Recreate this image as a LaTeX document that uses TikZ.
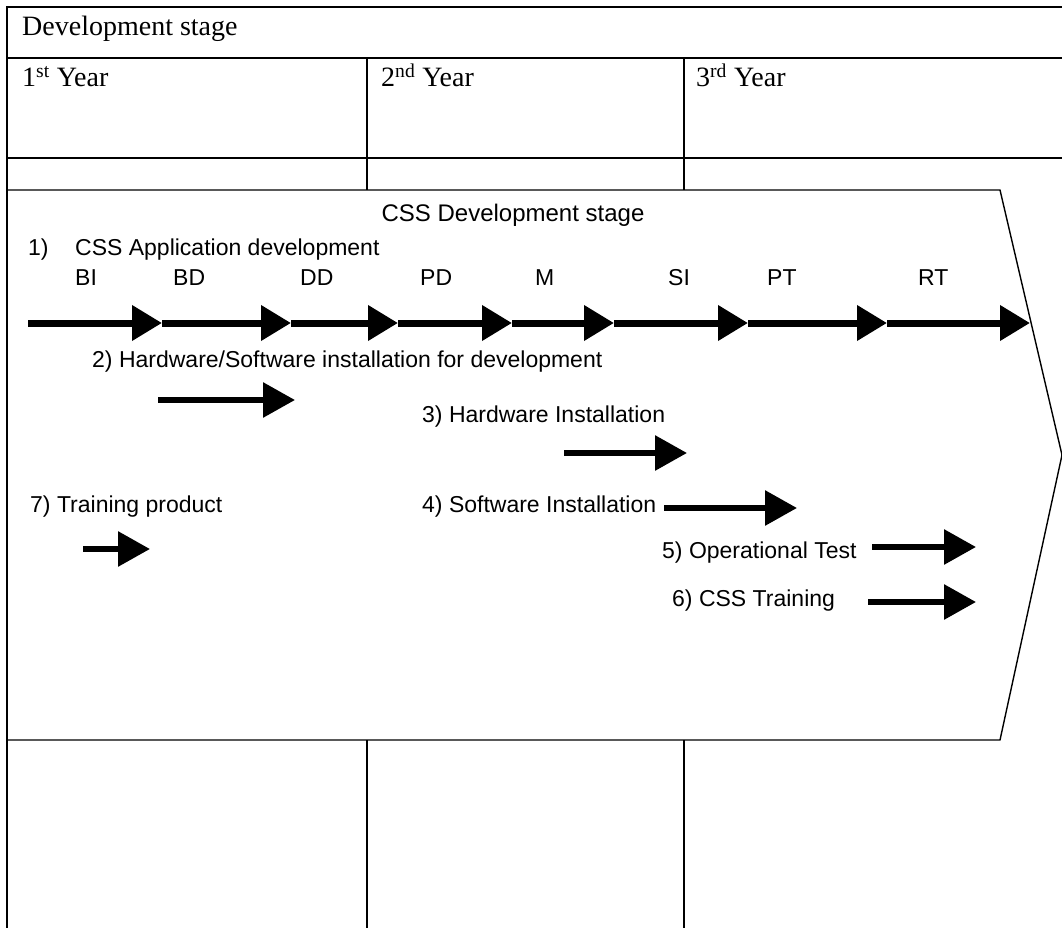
\documentclass[tikz,border=0pt]{standalone}
\usepackage{fontspec}
\setmainfont{Liberation Serif}
\setsansfont{Liberation Sans}
\usetikzlibrary{arrows.meta}
\tikzset{
  grid/.style={draw=black,line width=1.6pt},
  chevron/.style={draw=black,line width=1.4pt},
  phase/.style={-{Triangle[length=30pt,width=34pt]},line width=7pt},
  task/.style={-{Triangle[length=32pt,width=34pt]},line width=6pt},
  yearlbl/.style={anchor=base west,inner sep=0pt,font=\fontsize{28}{32}\selectfont},
  lbl/.style={anchor=base west,inner sep=0pt,font=\sffamily\fontsize{23}{27}\selectfont},
  milestone/.style={anchor=base west,inner sep=0pt,font=\sffamily\fontsize{23}{27}\selectfont}}

\begin{document}
\begin{tikzpicture}[x=1pt,y=-1pt]
\useasboundingbox (0,0) rectangle (1062,928);
% table frame
\draw[grid] (1062,7) -- (7,7) -- (7,928);
\draw[grid] (7,58) -- (1062,58);
\draw[grid] (7,158) -- (1062,158);
\draw[grid] (367,58) -- (367,190) (684,58) -- (684,190);
\draw[grid] (367,740) -- (367,928) (684,740) -- (684,928);
% stage chevron
\draw[chevron] (7,190) -- (1000,190) -- (1062,455) -- (1000,740) -- (7,740);

\node[yearlbl] (stage) at (22,36) {Development stage};
\node[yearlbl] (year1) at (22,87) {1\textsuperscript{st} Year};
\node[yearlbl] (year2) at (381,87) {2\textsuperscript{nd} Year};
\node[yearlbl] (year3) at (696,87) {3\textsuperscript{rd} Year};

\node[lbl,anchor=base,font=\sffamily\fontsize{24}{28}\selectfont] (css) at (513,222) {CSS Development stage};
\node[lbl] (t1num) at (28,255) {1)};
\node[lbl] (t1) at (75,255) {CSS Application development};

% milestones of 1)
\foreach \n/\x/\t in {bi/75/BI,bd/173/BD,dd/300/DD,pd/420/PD,mm/535/M,si/668/SI,pt/767/PT,rt/918/RT}
  \node[milestone] (\n) at (\x,285) {\t};
\foreach \n/\x in {0/28,1/162,2/291,3/398,4/512,5/614,6/748,7/887,8/1030}
  \coordinate (m\n) at (\x,323);
\foreach \a/\b in {0/1,1/2,2/3,3/4,4/5,5/6,6/7,7/8}
  \draw[phase] (m\a) -- (m\b);

% other tasks
\node[lbl] (t2) at (92,367) {2) Hardware/Software installation for development};
\node[lbl] (t3) at (422,422) {3) Hardware Installation};
\node[lbl] (t7) at (30,512) {7) Training product};
\node[lbl] (t4) at (422,512) {4) Software Installation};
\node[lbl] (t5) at (662,558) {5) Operational Test};
\node[lbl] (t6) at (672,606) {6) CSS Training};

\coordinate (a2s) at (158,400); \coordinate (a2e) at (295,400);
\coordinate (a3s) at (564,453); \coordinate (a3e) at (687,453);
\coordinate (a7s) at (83,549);  \coordinate (a7e) at (150,549);
\coordinate (a4s) at (664,508); \coordinate (a4e) at (797,508);
\coordinate (a5s) at (872,547); \coordinate (a5e) at (976,547);
\coordinate (a6s) at (868,602); \coordinate (a6e) at (976,602);
\foreach \k in {2,3,7,4,5,6}
  \draw[task] (a\k s) -- (a\k e);
\end{tikzpicture}
\end{document}
